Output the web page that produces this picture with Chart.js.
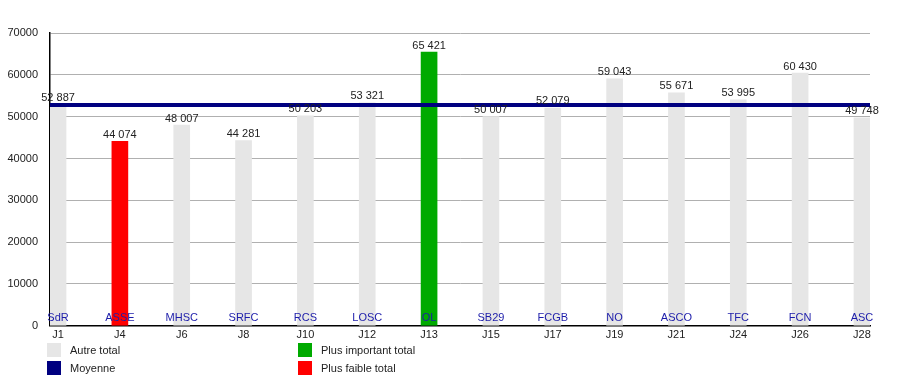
<!DOCTYPE html>
<html>
<head>
<meta charset="utf-8">
<script src="https://cdn.jsdelivr.net/npm/chart.js@4"></script>
<style>
    body { margin: 0; background: #fff; font-family: "Liberation Sans", Arial, sans-serif; }
    #wrap { position: relative; width: 900px; height: 375px; }
    #legende { position: absolute; left: 0; top: 0; font-size: 11px; color: #222; }
    .item { position: absolute; white-space: nowrap; line-height: 14px; }
    .item span { position: absolute; left: 0; top: 0; width: 14px; height: 14px; }
    .item b { font-weight: normal; position: absolute; left: 23px; top: 0; }
</style>
</head>
<body>
<div id="wrap">
    <canvas id="chart" width="900" height="375"></canvas>
    <div id="legende"></div>
</div>
<script>
    const journees = ["J1", "J4", "J6", "J8", "J10", "J12", "J13", "J15", "J17", "J19", "J21", "J24", "J26", "J28"];
    const equipes = ["SdR", "ASSE", "MHSC", "SRFC", "RCS", "LOSC", "OL", "SB29", "FCGB", "NO", "ASCO", "TFC", "FCN", "ASC"];
    const affluences = [52887, 44074, 48007, 44281, 50203, 53321, 65421, 50007, 52079, 59043, 55671, 53995, 60430, 49748];
    const yTicks = [0, 10000, 20000, 30000, 40000, 50000, 60000, 70000];

    const couleurs = {
        autre: "#e6e6e6",
        max: "#00aa00",
        min: "#ff0000",
        moyenne: "#000080",
        equipe: "#1c1caa"
    };

    const moyenne = affluences.reduce((a, b) => a + b, 0) / affluences.length;
    const maxVal = Math.max(...affluences);
    const minVal = Math.min(...affluences);

    function formatNombre(v) {
        return String(v).replace(/\B(?=(\d{3})+(?!\d))/g, " ");
    }

    // ligne de la moyenne + etiquettes des barres
    const etiquettesPlugin = {
        id: "etiquettes",
        afterDatasetsDraw(chart) {
            const { ctx, chartArea, scales } = chart;
            const yMoy = scales.y.getPixelForValue(moyenne);
            ctx.save();
            ctx.strokeStyle = couleurs.moyenne;
            ctx.lineWidth = 4;
            ctx.beginPath();
            ctx.moveTo(chartArea.left, yMoy);
            ctx.lineTo(chartArea.right, yMoy);
            ctx.stroke();

            const meta = chart.getDatasetMeta(0);
            ctx.font = "11px 'Liberation Sans', Arial, sans-serif";
            ctx.textAlign = "center";
            meta.data.forEach((bar, i) => {
                ctx.fillStyle = "#222";
                ctx.textBaseline = "bottom";
                ctx.fillText(formatNombre(affluences[i]), bar.x, bar.y - 1);
                ctx.fillStyle = couleurs.equipe;
                ctx.textBaseline = "alphabetic";
                ctx.fillText(equipes[i], bar.x, chartArea.bottom - 5);
            });
            ctx.restore();
        }
    };

    new Chart(document.getElementById("chart"), {
        type: "bar",
        data: {
            datasets: [{
                data: affluences.map((v, i) => ({ x: i, y: v })),
                backgroundColor: affluences.map(v => v === maxVal ? couleurs.max : v === minVal ? couleurs.min : couleurs.autre),
                barThickness: 16,
                borderWidth: 0
            }]
        },
        options: {
            responsive: false,
            animation: false,
            layout: { padding: { top: 33, right: 30, bottom: 30, left: 0 } },
            plugins: {
                legend: { display: false },
                tooltip: { enabled: false }
            },
            scales: {
                x: {
                    type: "linear",
                    offset: false,
                    min: -0.13,
                    max: journees.length - 1 + 0.13,
                    afterBuildTicks: axis => { axis.ticks = journees.map((_, i) => ({ value: i })); },
                    grid: { display: false, drawTicks: false, offset: false },
                    border: { color: "#000", width: 1.5 },
                    ticks: {
                        padding: 3,
                        color: "#222",
                        font: { family: "'Liberation Sans', Arial, sans-serif", size: 11 },
                        callback: v => journees[v],
                        maxRotation: 0,
                        autoSkip: false
                    }
                },
                y: {
                    min: 0,
                    max: 70000,
                    afterBuildTicks: axis => { axis.ticks = yTicks.map(v => ({ value: v })); },
                    afterFit: axis => { axis.width = 50; },
                    grid: { color: "#b0b0b0", drawTicks: false },
                    border: { color: "#000", width: 1.5 },
                    ticks: {
                        padding: 12,
                        color: "#222",
                        font: { family: "'Liberation Sans', Arial, sans-serif", size: 11 },
                        callback: v => String(v)
                    }
                }
            }
        },
        plugins: [etiquettesPlugin]
    });

    // legende en HTML
    const legende = [
        { texte: "Autre total", couleur: couleurs.autre, x: 47, y: 343 },
        { texte: "Moyenne", couleur: couleurs.moyenne, x: 47, y: 361 },
        { texte: "Plus important total", couleur: couleurs.max, x: 298, y: 343 },
        { texte: "Plus faible total", couleur: couleurs.min, x: 298, y: 361 }
    ];
    const boite = document.getElementById("legende");
    legende.forEach(l => {
        const d = document.createElement("div");
        d.className = "item";
        d.style.left = l.x + "px";
        d.style.top = l.y + "px";
        d.innerHTML = `<span style="background:${l.couleur}"></span><b>${l.texte}</b>`;
        boite.appendChild(d);
    });
</script>
</body>
</html>
